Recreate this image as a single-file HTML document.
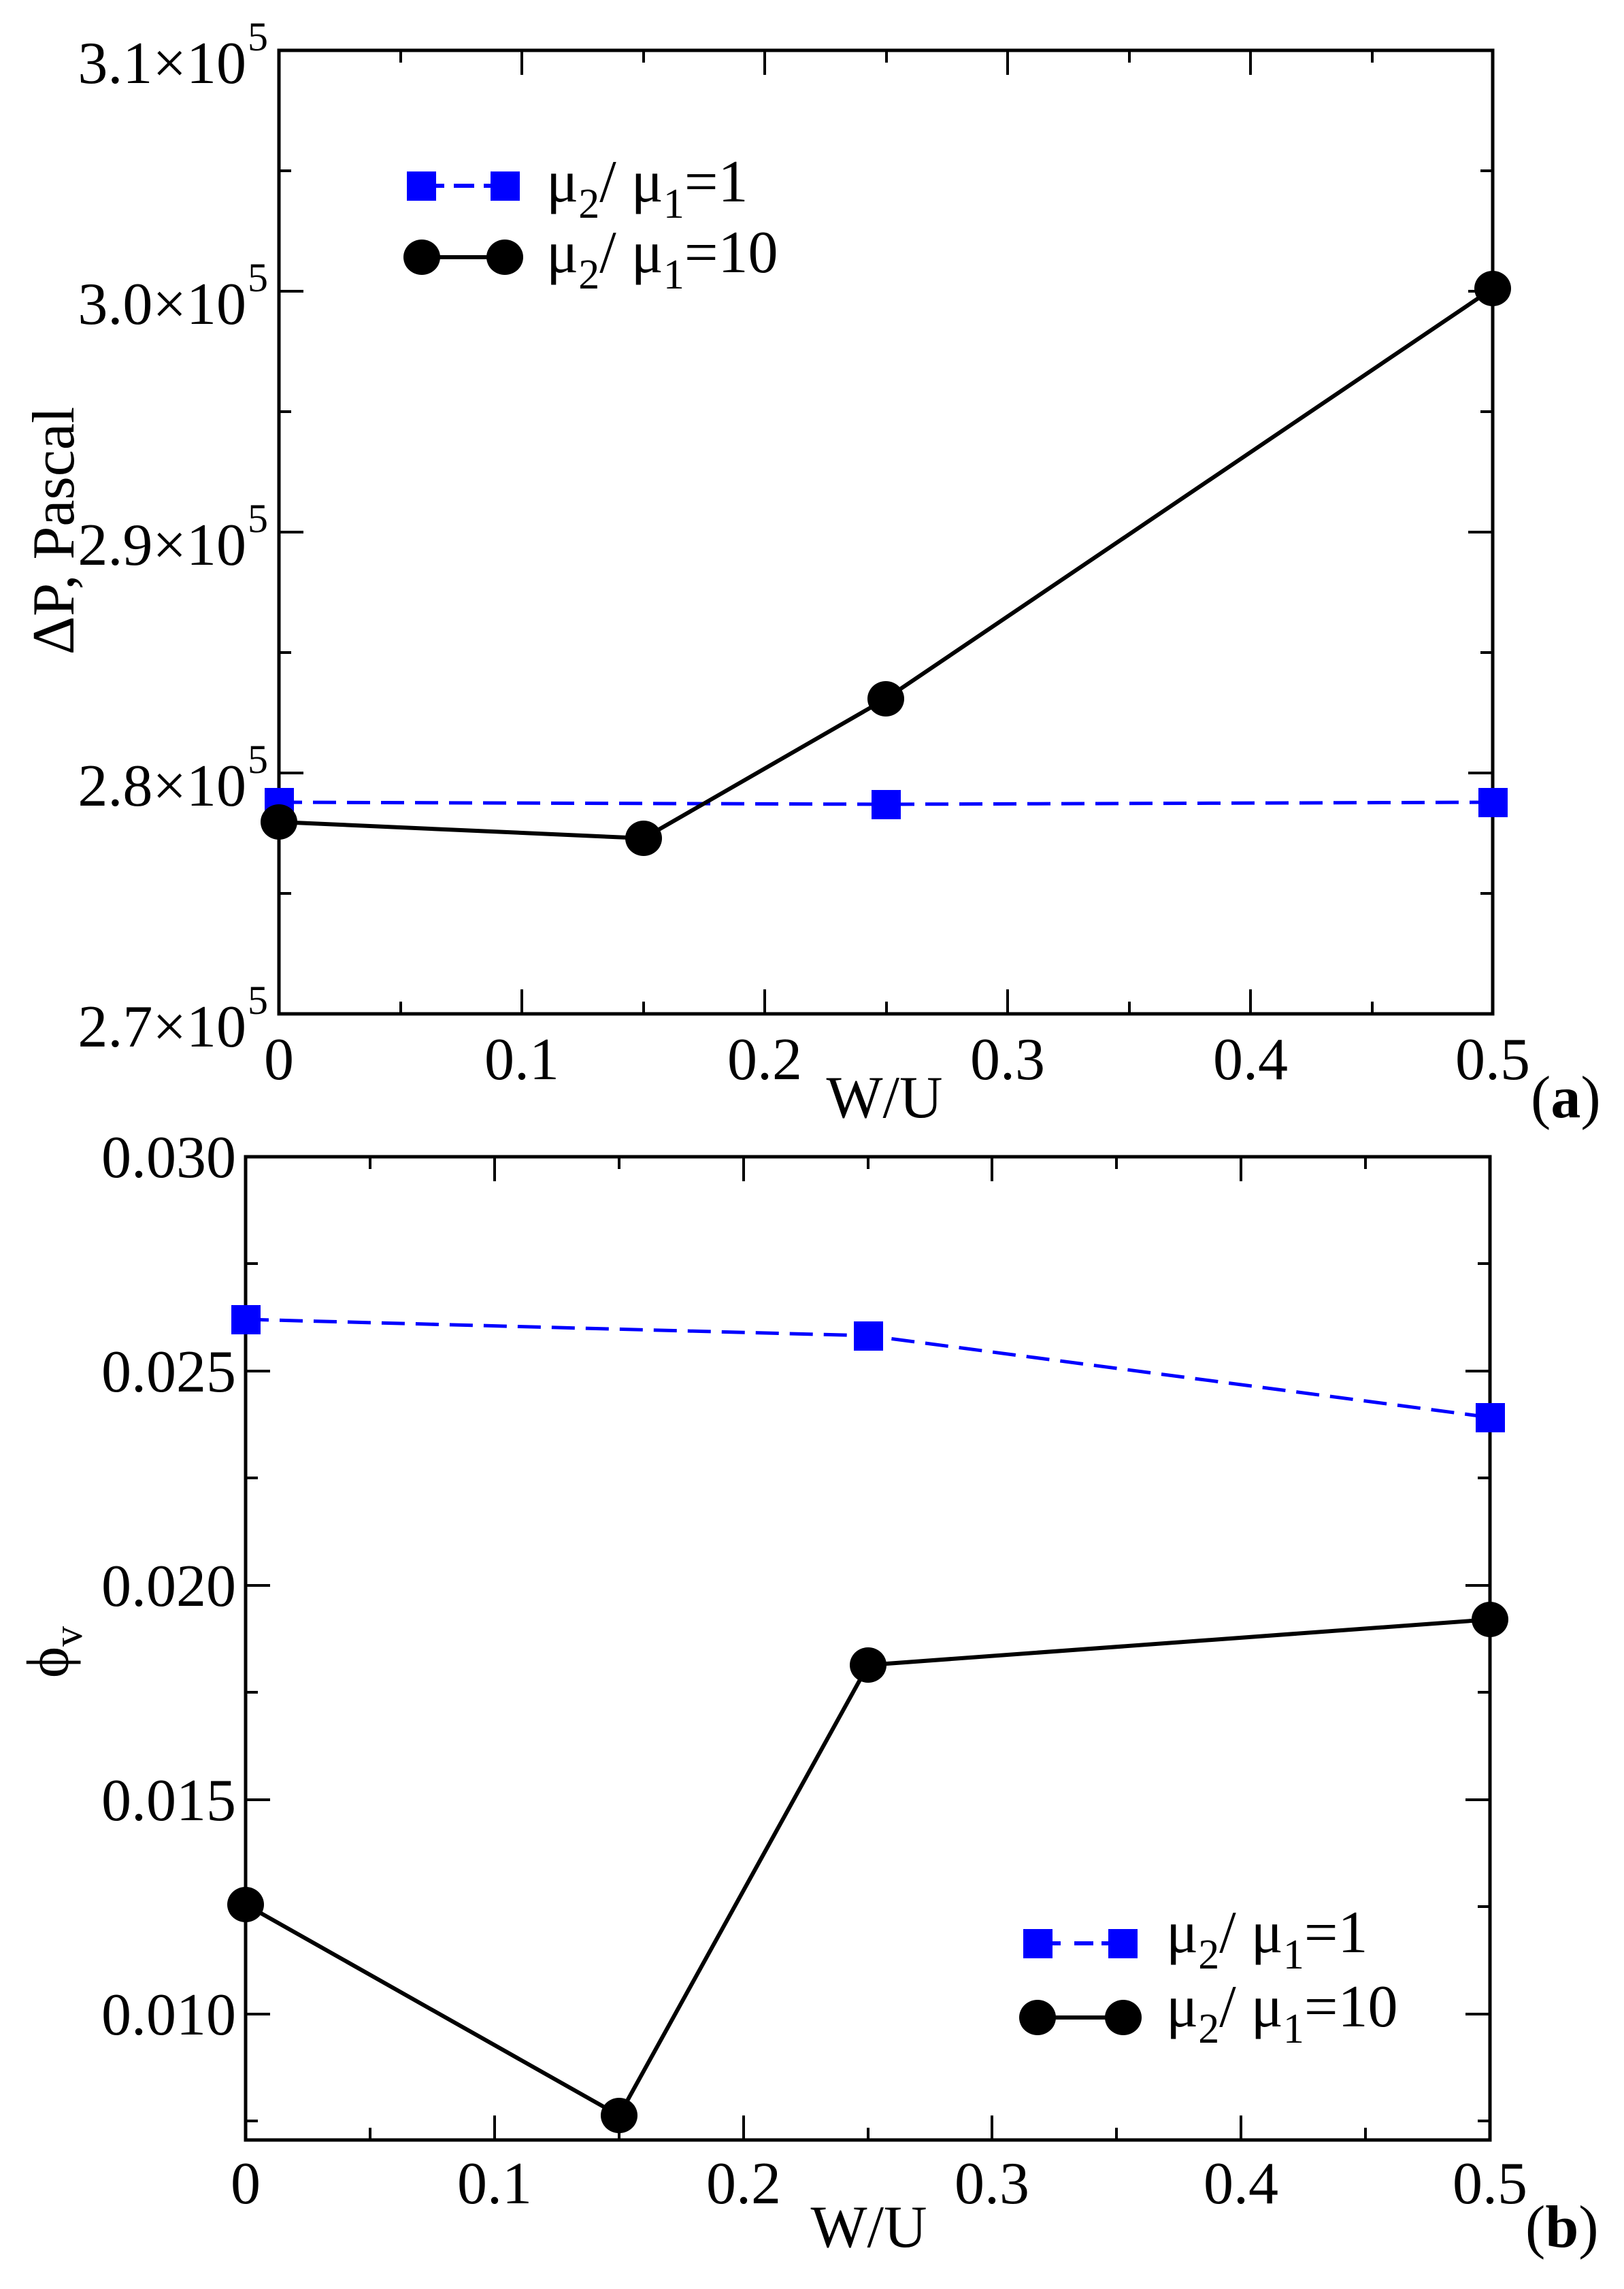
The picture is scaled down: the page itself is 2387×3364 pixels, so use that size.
<!DOCTYPE html>
<html><head><meta charset="utf-8"><style>html,body{margin:0;padding:0;background:#fff}svg{display:block}text{font-family:"Liberation Serif",serif;fill:#000}</style></head>
<body>
<svg width="2387" height="3364" viewBox="0 0 2387 3364" xmlns="http://www.w3.org/2000/svg">
<g stroke="#000" stroke-width="5" fill="none">
<rect x="410" y="74" width="1784" height="1416"/>
</g>
<g stroke="#000" stroke-width="4">
<path d="M767,1490v-36M1124,1490v-36M1481,1490v-36M1838,1490v-36M767,74v36M1124,74v36M1481,74v36M1838,74v36"/>
<path d="M589,1490v-18M946,1490v-18M1303,1490v-18M1660,1490v-18M2017,1490v-18M589,74v18M946,74v18M1303,74v18M1660,74v18M2017,74v18"/>
<path d="M410,428h36M410,782h36M410,1136h36M2194,428h-36M2194,782h-36M2194,1136h-36"/>
<path d="M410,251h18M410,605h18M410,959h18M410,1313h18M2194,251h-18M2194,605h-18M2194,959h-18M2194,1313h-18"/>
</g>
<g font-size="88" text-anchor="end">
<text x="362" y="122">3.1×10</text><text x="362" y="476">3.0×10</text><text x="362" y="830">2.9×10</text><text x="362" y="1184">2.8×10</text><text x="362" y="1538">2.7×10</text>
</g>
<g font-size="60">
<text x="364" y="74">5</text><text x="364" y="428">5</text><text x="364" y="782">5</text><text x="364" y="1136">5</text><text x="364" y="1490">5</text>
</g>
<g font-size="88" text-anchor="middle">
<text x="410" y="1586">0</text><text x="767" y="1586">0.1</text><text x="1124" y="1586">0.2</text><text x="1481" y="1586">0.3</text><text x="1838" y="1586">0.4</text><text x="2194" y="1586">0.5</text>
<text x="1300" y="1642">W/U</text>
</g>
<text x="2250" y="1642" font-size="88">(<tspan font-weight="bold">a</tspan>)</text>
<text transform="translate(108,780) rotate(-90)" font-size="88" text-anchor="middle">ΔP, Pascal</text>
<polyline points="410,1179 1302,1182 2194,1179" fill="none" stroke="#00f" stroke-width="5" stroke-dasharray="34,16"/>
<polyline points="410,1208 946,1232 1302,1027 2194,424" fill="none" stroke="#000" stroke-width="6"/>
<g fill="#00f"><rect x="389" y="1158" width="43" height="43"/><rect x="1281" y="1161" width="43" height="43"/><rect x="2173" y="1158" width="43" height="43"/></g>
<g fill="#000"><ellipse cx="410" cy="1208" rx="27" ry="26"/><ellipse cx="946" cy="1232" rx="27" ry="26"/><ellipse cx="1302" cy="1027" rx="27" ry="26"/><ellipse cx="2194" cy="424" rx="27" ry="26"/></g>
<g fill="#00f"><rect x="598" y="252" width="43" height="43"/><rect x="721" y="252" width="43" height="43"/></g>
<path d="M641,273h12M667,273h30M711,273h10" stroke="#00f" stroke-width="6"/>
<path d="M620,378h123" stroke="#000" stroke-width="6"/>
<g fill="#000"><ellipse cx="620" cy="378" rx="27" ry="26"/><ellipse cx="742" cy="378" rx="27" ry="26"/></g>
<text x="803" y="296" font-size="88">μ<tspan font-size="62" dy="24">2</tspan><tspan dy="-24">/ μ</tspan><tspan font-size="62" dy="24">1</tspan><tspan dy="-24">=1</tspan></text>
<text x="803" y="400" font-size="88">μ<tspan font-size="62" dy="24">2</tspan><tspan dy="-24">/ μ</tspan><tspan font-size="62" dy="24">1</tspan><tspan dy="-24">=10</tspan></text>

<g stroke="#000" stroke-width="5" fill="none">
<rect x="361" y="1700" width="1829" height="1445"/>
</g>
<g stroke="#000" stroke-width="4">
<path d="M727,3145v-36M1093,3145v-36M1458,3145v-36M1824,3145v-36M727,1700v36M1093,1700v36M1458,1700v36M1824,1700v36"/>
<path d="M544,3145v-18M910,3145v-18M1276,3145v-18M1641,3145v-18M2007,3145v-18M544,1700v18M910,1700v18M1276,1700v18M1641,1700v18M2007,1700v18"/>
<path d="M361,2015h36M361,2330h36M361,2645h36M361,2960h36M2190,2015h-36M2190,2330h-36M2190,2645h-36M2190,2960h-36"/>
<path d="M361,1857h18M361,2172h18M361,2487h18M361,2802h18M361,3117h18M2190,1857h-18M2190,2172h-18M2190,2487h-18M2190,2802h-18M2190,3117h-18"/>
</g>
<g font-size="88" text-anchor="end">
<text x="347" y="1730">0.030</text><text x="347" y="2045">0.025</text><text x="347" y="2360">0.020</text><text x="347" y="2675">0.015</text><text x="347" y="2990">0.010</text>
</g>
<g font-size="88" text-anchor="middle">
<text x="361" y="3238">0</text><text x="727" y="3238">0.1</text><text x="1093" y="3238">0.2</text><text x="1458" y="3238">0.3</text><text x="1824" y="3238">0.4</text><text x="2190" y="3238">0.5</text>
<text x="1277" y="3302">W/U</text>
</g>
<text x="2242" y="3302" font-size="88">(<tspan font-weight="bold">b</tspan>)</text>
<text transform="translate(100,2428) rotate(-90)" font-size="88" text-anchor="middle">ϕ<tspan font-size="60" dy="20">v</tspan></text>
<polyline points="361,1939 1276,1963 2190,2083" fill="none" stroke="#00f" stroke-width="5" stroke-dasharray="34,16"/>
<polyline points="361,2799 910,3109 1276,2447 2190,2380" fill="none" stroke="#000" stroke-width="6"/>
<g fill="#00f"><rect x="340" y="1918" width="43" height="43"/><rect x="1255" y="1942" width="43" height="43"/><rect x="2169" y="2062" width="43" height="43"/></g>
<g fill="#000"><ellipse cx="361" cy="2799" rx="27" ry="26"/><ellipse cx="910" cy="3109" rx="27" ry="26"/><ellipse cx="1276" cy="2447" rx="27" ry="26"/><ellipse cx="2190" cy="2380" rx="27" ry="26"/></g>
<g fill="#00f"><rect x="1504" y="2835" width="43" height="43"/><rect x="1629" y="2835" width="43" height="43"/></g>
<path d="M1547,2856h12M1579,2856h28M1619,2856h10" stroke="#00f" stroke-width="6"/>
<path d="M1525,2965h126" stroke="#000" stroke-width="6"/>
<g fill="#000"><ellipse cx="1525" cy="2965" rx="27" ry="26"/><ellipse cx="1651" cy="2965" rx="27" ry="26"/></g>
<text x="1714" y="2869" font-size="88">μ<tspan font-size="62" dy="24">2</tspan><tspan dy="-24">/ μ</tspan><tspan font-size="62" dy="24">1</tspan><tspan dy="-24">=1</tspan></text>
<text x="1714" y="2978" font-size="88">μ<tspan font-size="62" dy="24">2</tspan><tspan dy="-24">/ μ</tspan><tspan font-size="62" dy="24">1</tspan><tspan dy="-24">=10</tspan></text>
</svg>
</body></html>
